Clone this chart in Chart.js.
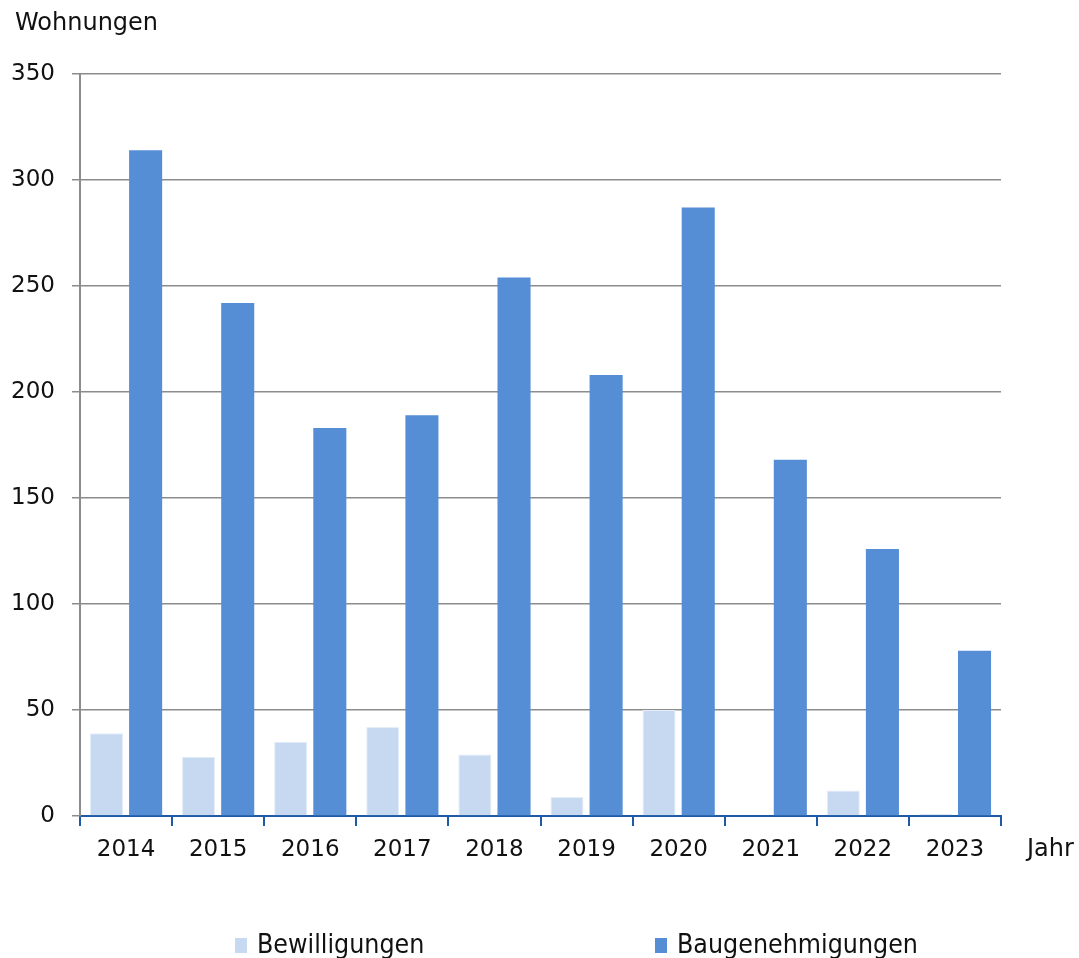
<!DOCTYPE html>
<html>
<head>
<meta charset="utf-8">
<script src="https://cdn.jsdelivr.net/npm/chart.js@4/dist/chart.umd.min.js"></script>
<style>
  html, body { margin: 0; padding: 0; background: #fff; }
  canvas { display: block; }
</style>
</head>
<body>
<canvas id="chart" width="1079" height="958"></canvas>
<script>
// Jahre und Werte
const years = ["2014", "2015", "2016", "2017", "2018", "2019", "2020", "2021", "2022", "2023"];
const bewilligungen = [39, 28, 35, 42, 29, 9, 50, 0, 12, 1];
const baugenehmigungen = [314, 242, 183, 189, 254, 208, 287, 168, 126, 78];
const yTicks = [0, 50, 100, 150, 200, 250, 300, 350];

const LIGHT = "#c6d9f1";
const DARK = "#558ed5";
const AXIS_BLUE = "#1f5aa6";
const GRID = "#8c8c8c";
const FONT = "'DejaVu Sans', sans-serif";

// extra texts + legend
const extras = {
    id: "extras",
    afterDraw(chart) {
        const ctx = chart.ctx;
        ctx.save();
        ctx.fillStyle = "#111";
        ctx.font = "24px " + FONT;
        ctx.textBaseline = "middle";
        ctx.textAlign = "left";
        ctx.fillText("Wohnungen", 15, 24);
        ctx.fillText("Jahr", 1027, 850);

        // legend
        const items = [
            { label: "Bewilligungen", color: LIGHT, x: 235 },
            { label: "Baugenehmigungen", color: DARK, x: 655 }
        ];
        ctx.font = "26.5px 'Liberation Sans Narrow', 'DejaVu Sans Condensed', sans-serif";
        items.forEach(it => {
            ctx.fillStyle = it.color;
            ctx.fillRect(it.x, 938, 12, 15);
            ctx.fillStyle = "#111";
            ctx.fillText(it.label, it.x + 22, 946);
        });
        ctx.restore();
    }
};

new Chart(document.getElementById("chart"), {
    type: "bar",
    data: {
        labels: years,
        datasets: [
            {
                label: "Bewilligungen",
                data: bewilligungen,
                backgroundColor: LIGHT,
                borderColor: "#e4edf8",
                borderWidth: 1,
                borderSkipped: "bottom"
            },
            {
                label: "Baugenehmigungen",
                data: baugenehmigungen,
                backgroundColor: DARK,
                borderWidth: 0
            }
        ]
    },
    options: {
        responsive: false,
        animation: false,
        events: [],
        datasets: {
            bar: { categoryPercentage: 0.85, barPercentage: 0.845 }
        },
        layout: { padding: { left: 0, right: 78, top: 74, bottom: 0 } },
        plugins: {
            legend: { display: false },
            tooltip: { enabled: false }
        },
        scales: {
            x: {
                grid: {
                    offset: true,
                    drawOnChartArea: false,
                    drawTicks: true,
                    tickLength: 10,
                    color: AXIS_BLUE,
                    lineWidth: 2
                },
                border: { display: true, color: AXIS_BLUE, width: 2 },
                ticks: { color: "#111", font: { family: FONT, size: 23 }, padding: 10 },
                afterFit(scale) { scale.height = 142; }
            },
            y: {
                min: 0,
                max: 350,
                afterBuildTicks(scale) { scale.ticks = yTicks.map(v => ({ value: v })); },
                grid: { color: GRID, lineWidth: 1.5, tickLength: 8 },
                border: { display: true, color: GRID, width: 2 },
                ticks: { color: "#111", font: { family: FONT, size: 23 }, padding: 17 },
                afterFit(scale) { scale.width = 80; }
            }
        }
    },
    plugins: [extras]
});
</script>
</body>
</html>
